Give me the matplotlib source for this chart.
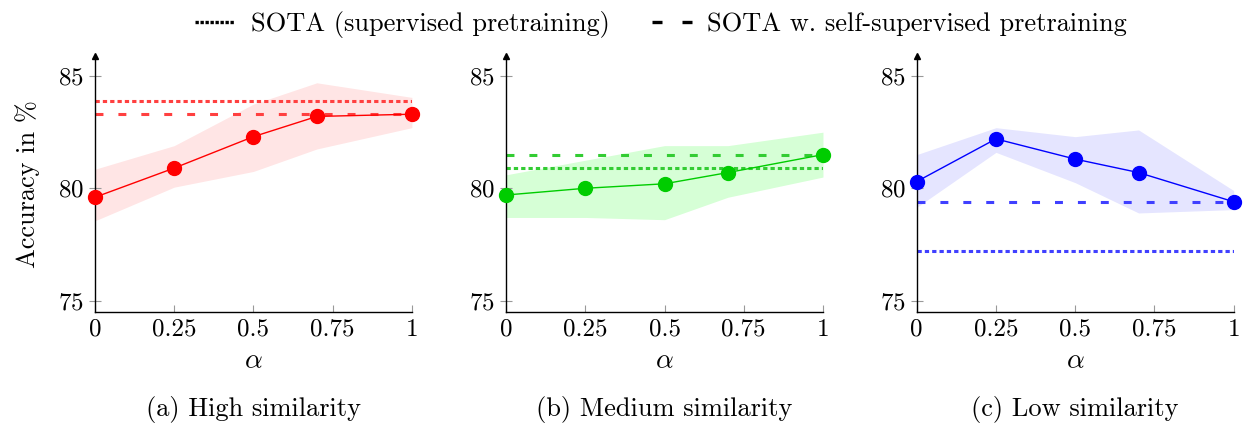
import numpy as np
import matplotlib
matplotlib.use("Agg")
from matplotlib import pyplot as plt
from matplotlib.lines import Line2D

plt.rcParams['font.family'] = 'serif'
plt.rcParams['font.serif'] = ['cmr10']
plt.rcParams['mathtext.fontset'] = 'cm'
plt.rcParams['axes.formatter.use_mathtext'] = True

alpha_vals = [0, 0.25, 0.5, 0.7, 1]
xticks = [0, 0.25, 0.5, 0.75, 1]
xticklabels = ['0', '0.25', '0.5', '0.75', '1']
yticks = [75, 80, 85]

high_mean = [79.6, 80.9, 82.3, 83.2, 83.3]
high_upper = [80.85, 81.9, 83.75, 84.7, 84.05]
high_lower = [78.55, 80.05, 80.75, 81.75, 82.7]
high_sota_sup = 83.9
high_sota_self = 83.3

med_mean = [79.7, 80.0, 80.2, 80.7, 81.5]
med_upper = [80.6, 81.25, 81.9, 81.9, 82.5]
med_lower = [78.7, 78.7, 78.6, 79.6, 80.5]
med_sota_sup = 80.9
med_sota_self = 81.5

low_mean = [80.3, 82.2, 81.3, 80.7, 79.4]
low_upper = [81.5, 82.7, 82.3, 82.6, 79.9]
low_lower = [79.15, 81.6, 80.25, 78.9, 79.05]
low_sota_sup = 77.2
low_sota_self = 79.4

panels = [
    ('(a) High similarity', high_mean, high_upper, high_lower, high_sota_sup, high_sota_self, '#ff0000', '#ff4040', 0.1),
    ('(b) Medium similarity', med_mean, med_upper, med_lower, med_sota_sup, med_sota_self, '#00cc00', '#33cc33', 0.16),
    ('(c) Low similarity', low_mean, low_upper, low_lower, low_sota_sup, low_sota_self, '#0000ff', '#4040ff', 0.1),
]

fig = plt.figure(figsize=(12.43, 4.23), dpi=100)
lefts = [0.0764, 0.4071, 0.7375]
dotted = (0, (1.4, 1.0))
dashed = (0, (2.6, 4.9))

for i, (title, mean, upper, lower, s_sup, s_self, col, lcol, fa) in enumerate(panels):
    ax = fig.add_axes([lefts[i], 0.263, 0.255, 0.605])
    fill_col = '#00ff00' if i == 1 else col
    ax.fill_between(alpha_vals, lower, upper, color=fill_col, alpha=fa, linewidth=0)
    ax.plot([0, 1], [s_sup, s_sup], color=lcol, lw=2.2, linestyle=dotted)
    ax.plot([0, 1], [s_self, s_self], color=lcol, lw=2.2, linestyle=dashed)
    ax.plot(alpha_vals, mean, color=col, lw=1.0, marker='o', markersize=10, clip_on=False, zorder=5)

    ax.set_xlim(0, 1)
    ax.set_ylim(74.5, 85.9)
    ax.set_xticks(xticks)
    ax.set_xticklabels(xticklabels)
    ax.set_yticks(yticks)
    ax.spines['top'].set_visible(False)
    ax.spines['right'].set_visible(False)
    ax.spines['left'].set_linewidth(1.0)
    ax.spines['bottom'].set_linewidth(1.0)
    ax.tick_params(axis='x', direction='in', length=5, color='#999999', labelsize=18, pad=5)
    ax.tick_params(axis='y', direction='inout', length=8, color='#999999', labelsize=18, pad=4)
    ax.plot(0, 1, '^k', markersize=4, transform=ax.transAxes, clip_on=False)
    ax.set_xlabel(r'$\alpha$', fontsize=20, labelpad=5)
    if i == 0:
        ax.set_ylabel('Accuracy in %', fontsize=19, labelpad=13)
    fig.text(lefts[i] + 0.1275, 0.033, title, ha='center', va='center', fontsize=19)

handles = [
    Line2D([], [], color='black', lw=2.4, linestyle=(0, (1.0, 0.5))),
    Line2D([], [], color='black', lw=2.4, linestyle=(0, (3.0, 6.0))),
]
fig.legend(handles, ['SOTA (supervised pretraining)', 'SOTA w. self-supervised pretraining'],
           loc='upper center', bbox_to_anchor=(0.532, 1.03), ncol=2, frameon=False,
           fontsize=19, handlelength=1.5, handletextpad=0.6, columnspacing=1.6)

fig.savefig('out.png', dpi=100)
